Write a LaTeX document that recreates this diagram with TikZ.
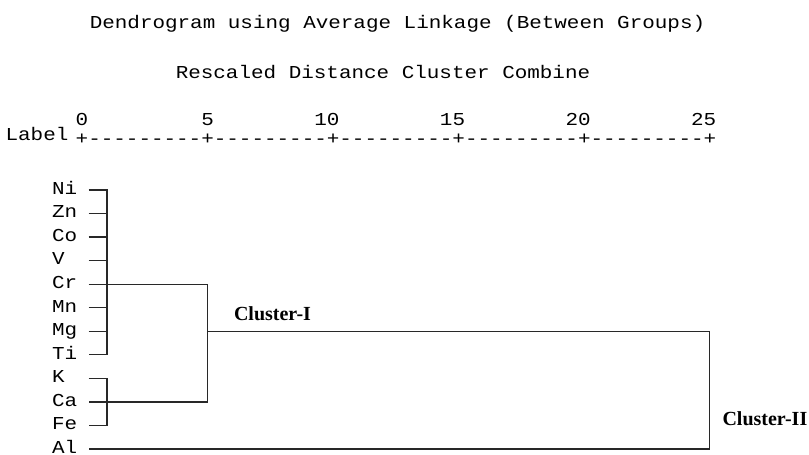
\documentclass[tikz,border=0pt]{standalone}
\usepackage{fontspec}
\usepackage{graphicx}
\setmainfont{Liberation Serif}
\setmonofont{Liberation Mono}
\definecolor{lc}{RGB}{40,40,40}
\newcommand{\sq}[1]{\scalebox{1}[0.87]{#1}}
\begin{document}
\begin{tikzpicture}[x=1pt,y=-1pt,
  mono/.style={font=\ttfamily\fontsize{20.93}{24}\selectfont, inner sep=0pt, outer sep=0pt, text=black},
  clab/.style={font=\bfseries\fontsize{20}{24}\selectfont, inner sep=0pt, outer sep=0pt, anchor=base west, text=black},
  dline/.style={line width=1.3pt, draw=lc, line join=miter}]
\useasboundingbox (0,0) rectangle (809,455);
% titles
\node[mono, anchor=base] (title) at (397.5,28) {\sq{Dendrogram using Average Linkage (Between Groups)}};
\node[mono, anchor=base] (sub) at (383,78) {\sq{Rescaled Distance Cluster Combine}};
% axis numbers
\node[mono, anchor=base] (n0) at (82,125) {\sq{0}};
\node[mono, anchor=base] (n5) at (207.6,125) {\sq{5}};
\node[mono, anchor=base] (n10) at (326.9,125) {\sq{10}};
\node[mono, anchor=base] (n15) at (452.5,125) {\sq{15}};
\node[mono, anchor=base] (n20) at (578.1,125) {\sq{20}};
\node[mono, anchor=base] (n25) at (703.7,125) {\sq{25}};
\node[mono, anchor=base] (lbl) at (37,140) {\sq{Label}};
\node[mono, anchor=base west] (axis) at (75.72,144) {\sq{+---------+---------+---------+---------+---------+}};
% leaves
\foreach \n [count=\i from 0] in {Ni,Zn,Co,V,Cr,Mn,Mg,Ti,K,Ca,Fe,Al} {
  \node[mono, anchor=base west] (lab\i) at (52,{190+23.545*\i+4.3}) {\sq{\n}};
  \coordinate (s\i) at (88.5,{190+23.545*\i});
}
\coordinate (gAt) at (107,190);
\coordinate (gAb) at (s7 -| gAt);
\coordinate (gBt) at (s8 -| gAt);
\coordinate (gBb) at (s10 -| gAt);
\coordinate (c1) at (s4 -| 207.3,0);
\coordinate (c2) at (s9 -| c1);
\coordinate (m) at (s6 -| c1);
\coordinate (r1) at (s6 -| 709.3,0);
\coordinate (r2) at (s11 -| r1);
% group A
\draw[dline] (s0) -- (gAt) -- (gAb) -- (s7);
\foreach \i in {1,2,3,5,6} \draw[dline] (s\i) -- (s\i -| gAt);
% group B
\draw[dline] (s8) -- (gBt) -- (gBb) -- (s10);
% join A and B
\draw[dline] (s4) -- (c1) -- (c2) -- (s9);
% join with Al
\draw[dline] (m) -- (r1) -- (r2) -- (s11);
% cluster labels
\node[clab] (cl1) at (234,320) {Cluster-I};
\node[clab] (cl2) at (722.5,425) {Cluster-II};
\end{tikzpicture}
\end{document}
